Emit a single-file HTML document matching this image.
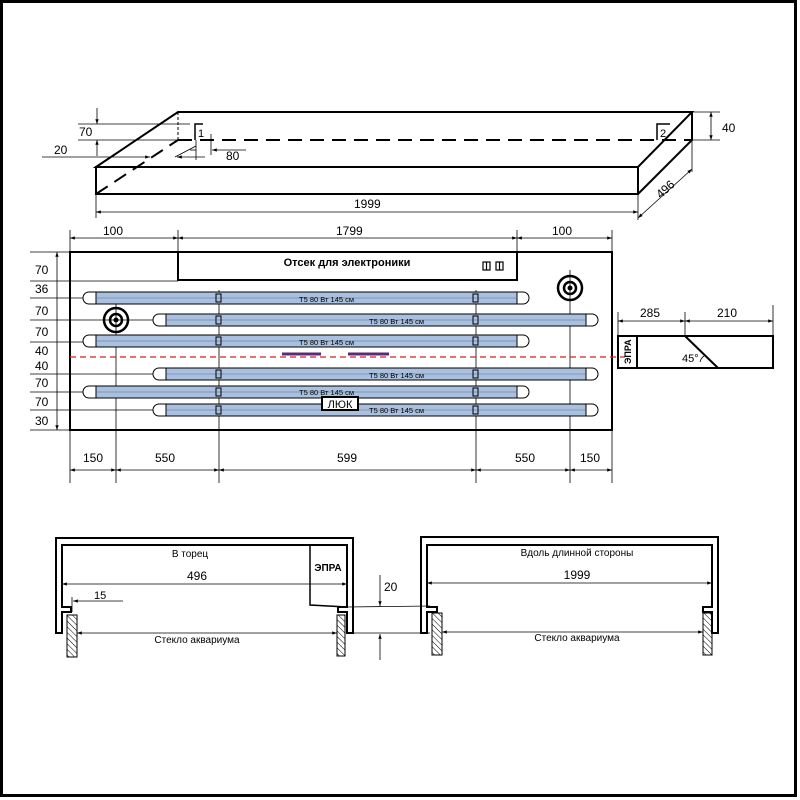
<!DOCTYPE html>
<html><head><meta charset="utf-8"><style>
body{margin:0;background:#fff}
svg{display:block}
text{font-family:"Liberation Sans",sans-serif;fill:#000}
</style></head><body>
<svg width="800" height="800" viewBox="0 0 800 800" xmlns="http://www.w3.org/2000/svg">
<defs>
<marker id="a" viewBox="0 0 10 10" refX="10" refY="5" markerWidth="8" markerHeight="6" orient="auto-start-reverse"><path d="M0,1.5L10,5L0,8.5z" fill="#000"/></marker>
<pattern id="h" width="4" height="4" patternUnits="userSpaceOnUse" patternTransform="rotate(-45)"><line x1="0" y1="0" x2="0" y2="4" stroke="#000" stroke-width="1"/></pattern>
</defs>
<rect x="1.5" y="1.5" width="794" height="794" fill="none" stroke="#000" stroke-width="3"/>

<!-- 3D box -->
<g fill="none" stroke="#000" stroke-width="2">
<path d="M96,167 L178,112 H692 L638,167 Z"/>
<rect x="96" y="167" width="542" height="27"/>
<path d="M638,194 L692,140 V112"/>
</g>
<g fill="none" stroke="#000" stroke-width="2" stroke-dasharray="14,8">
<path d="M96,194 L178,140"/>
<path d="M178,140 H692"/>
<path d="M178,112 V140" stroke-width="1" stroke-dasharray="3,2"/>
</g>
<g fill="none" stroke="#000" stroke-width="1.5">
<path d="M195,140 V124 H203"/><path d="M657,140 V124 H670"/>
</g>
<text x="198" y="137" font-size="11">1</text><text x="660" y="137" font-size="11">2</text>
<g stroke="#000" stroke-width="0.8" fill="none">
<line x1="78" y1="124" x2="190" y2="124"/><line x1="78" y1="140" x2="178" y2="140"/>
<line x1="97" y1="108" x2="97" y2="124" marker-end="url(#a)"/><line x1="97" y1="156" x2="97" y2="140" marker-end="url(#a)"/>
<line x1="42" y1="157" x2="150" y2="157" marker-end="url(#a)"/>
<line x1="205" y1="157" x2="177" y2="157" marker-end="url(#a)"/>
<line x1="175" y1="157" x2="196" y2="146"/>
<line x1="196" y1="140" x2="196" y2="160"/><line x1="211" y1="134" x2="211" y2="155"/>
<line x1="246" y1="150" x2="212" y2="150" marker-end="url(#a)"/>
<line x1="190" y1="150" x2="196" y2="150"/>
<line x1="96" y1="194" x2="96" y2="218"/><line x1="638" y1="194" x2="638" y2="220"/>
<line x1="96" y1="212" x2="638" y2="212" marker-start="url(#a)" marker-end="url(#a)"/>
<line x1="692" y1="140" x2="692" y2="172"/>
<line x1="638" y1="218" x2="692" y2="169" marker-start="url(#a)" marker-end="url(#a)"/>
<line x1="692" y1="112" x2="720" y2="112"/><line x1="692" y1="140" x2="720" y2="140"/>
<line x1="711" y1="126" x2="711" y2="112" marker-end="url(#a)"/><line x1="711" y1="126" x2="711" y2="140" marker-end="url(#a)"/>
</g>
<text x="79" y="136" font-size="12">70</text>
<text x="54" y="154" font-size="12">20</text>
<text x="226" y="160" font-size="12">80</text>
<text x="354" y="208" font-size="12">1999</text>
<text x="722" y="132" font-size="12">40</text>
<text x="656" y="193" font-size="12" transform="rotate(-42 666 190)">496</text>

<!-- plan view dims -->
<g stroke="#000" stroke-width="0.8" fill="none">
<line x1="70" y1="230" x2="70" y2="252"/><line x1="178" y1="230" x2="178" y2="252"/><line x1="517" y1="230" x2="517" y2="252"/><line x1="612" y1="230" x2="612" y2="252"/>
<line x1="70" y1="238" x2="178" y2="238" marker-start="url(#a)" marker-end="url(#a)"/>
<line x1="178" y1="238" x2="517" y2="238" marker-start="url(#a)" marker-end="url(#a)"/>
<line x1="517" y1="238" x2="612" y2="238" marker-start="url(#a)" marker-end="url(#a)"/>
<line x1="57" y1="252" x2="57" y2="430" marker-start="url(#a)" marker-end="url(#a)"/>
<line x1="30" y1="252" x2="70" y2="252"/><line x1="30" y1="430" x2="70" y2="430"/>
<line x1="30" y1="281" x2="178" y2="281"/>
<line x1="30" y1="298" x2="90" y2="298"/>
<line x1="30" y1="320" x2="160" y2="320"/>
<line x1="30" y1="342" x2="90" y2="342"/>
<line x1="30" y1="374" x2="160" y2="374"/>
<line x1="30" y1="392" x2="90" y2="392"/>
<line x1="30" y1="410" x2="160" y2="410"/>
<line x1="116" y1="300" x2="116" y2="483"/><line x1="219" y1="290" x2="219" y2="483"/><line x1="476" y1="290" x2="476" y2="483"/><line x1="570" y1="270" x2="570" y2="483"/>
<line x1="70" y1="430" x2="70" y2="483"/><line x1="612" y1="430" x2="612" y2="483"/>
<line x1="70" y1="470" x2="116" y2="470" marker-start="url(#a)" marker-end="url(#a)"/>
<line x1="116" y1="470" x2="219" y2="470" marker-start="url(#a)" marker-end="url(#a)"/>
<line x1="219" y1="470" x2="476" y2="470" marker-start="url(#a)" marker-end="url(#a)"/>
<line x1="476" y1="470" x2="570" y2="470" marker-start="url(#a)" marker-end="url(#a)"/>
<line x1="570" y1="470" x2="612" y2="470" marker-start="url(#a)" marker-end="url(#a)"/>
</g>
<g font-size="12">
<text x="103" y="235">100</text><text x="336" y="235">1799</text><text x="552" y="235">100</text>
<text x="35" y="274">70</text><text x="35" y="293">36</text><text x="35" y="315">70</text><text x="35" y="336">70</text><text x="35" y="355">40</text><text x="35" y="370">40</text><text x="35" y="387">70</text><text x="35" y="406">70</text><text x="35" y="425">30</text>
<text x="83" y="462">150</text><text x="155" y="462">550</text><text x="337" y="462">599</text><text x="515" y="462">550</text><text x="580" y="462">150</text>
</g>
<rect x="70" y="252" width="542" height="178" fill="none" stroke="#000" stroke-width="2"/>
<rect x="178" y="252" width="339" height="28" fill="#fff" stroke="#000" stroke-width="2"/>
<text x="347" y="266" font-size="11" font-weight="bold" text-anchor="middle">Отсек для электроники</text>
<g fill="none" stroke="#000" stroke-width="1.2"><rect x="483" y="262" width="7" height="8"/><rect x="496" y="262" width="7" height="8"/><line x1="486.5" y1="262" x2="486.5" y2="270"/><line x1="499.5" y1="262" x2="499.5" y2="270"/></g>

<!-- tubes -->
<g stroke="#000" stroke-width="1">
<g id="tL"><path d="M96,292 H89 A6,6 0 0 0 89,304 H96" fill="#fff"/><path d="M517,292 H523 A6,6 0 0 1 523,304 H517" fill="#fff"/><rect x="96" y="292" width="421" height="12" fill="#a9c0de"/><line x1="96" y1="298" x2="517" y2="298" stroke="#5a6d8a" stroke-width="0.6"/></g>
<use href="#tL" y="43"/><use href="#tL" y="94"/>
<g id="tR"><path d="M166,314 H159 A6,6 0 0 0 159,326 H166" fill="#fff"/><path d="M586,314 H592 A6,6 0 0 1 592,326 H586" fill="#fff"/><rect x="166" y="314" width="420" height="12" fill="#a9c0de"/><line x1="166" y1="320" x2="586" y2="320" stroke="#5a6d8a" stroke-width="0.6"/></g>
<use href="#tR" y="54"/><use href="#tR" y="90"/>
</g>
<g fill="none" stroke="#000" stroke-width="1">
<rect x="216" y="294" width="5" height="8"/><rect x="473" y="294" width="5" height="8"/>
<rect x="216" y="316" width="5" height="8"/><rect x="473" y="316" width="5" height="8"/>
<rect x="216" y="337" width="5" height="8"/><rect x="473" y="337" width="5" height="8"/>
<rect x="216" y="370" width="5" height="8"/><rect x="473" y="370" width="5" height="8"/>
<rect x="216" y="388" width="5" height="8"/><rect x="473" y="388" width="5" height="8"/>
<rect x="216" y="406" width="5" height="8"/><rect x="473" y="406" width="5" height="8"/>
</g>
<g font-size="7.5" fill="#223">
<text x="299" y="302">T5 80 Вт 145 см</text><text x="369" y="324">T5 80 Вт 145 см</text><text x="299" y="345">T5 80 Вт 145 см</text>
<text x="369" y="378">T5 80 Вт 145 см</text><text x="299" y="395">T5 80 Вт 145 см</text><text x="369" y="413">T5 80 Вт 145 см</text>
</g>
<g fill="none" stroke="#000" stroke-width="2.5">
<circle cx="116" cy="320" r="12"/><circle cx="116" cy="320" r="6"/>
<circle cx="570" cy="288" r="12"/><circle cx="570" cy="288" r="6"/>
</g>
<circle cx="116" cy="320" r="2.5"/><circle cx="570" cy="288" r="2.5"/>
<line x1="282" y1="354" x2="321" y2="354" stroke="#5a2a7a" stroke-width="3"/>
<line x1="348" y1="354" x2="389" y2="354" stroke="#5a2a7a" stroke-width="3"/>
<line x1="70" y1="357" x2="625" y2="357" stroke="#d02020" stroke-width="1.2" stroke-dasharray="6,4"/>
<rect x="322" y="397" width="36" height="13" fill="#fff" stroke="#000" stroke-width="2"/>
<text x="340" y="408" font-size="11" text-anchor="middle">ЛЮК</text>

<!-- side piece -->
<g stroke="#000" stroke-width="0.8" fill="none">
<line x1="618" y1="312" x2="618" y2="336"/><line x1="685" y1="312" x2="685" y2="336"/><line x1="773" y1="305" x2="773" y2="336"/>
<line x1="618" y1="321" x2="685" y2="321" marker-start="url(#a)" marker-end="url(#a)"/>
<line x1="685" y1="321" x2="773" y2="321" marker-start="url(#a)" marker-end="url(#a)"/>
<path d="M700,362 A10,10 0 0 1 704,356"/>
</g>
<g stroke="#000" stroke-width="2" fill="none"><rect x="618" y="336" width="155" height="32"/><line x1="637" y1="336" x2="637" y2="368"/><line x1="685" y1="336" x2="718" y2="368"/></g>
<text x="640" y="317" font-size="12">285</text><text x="717" y="317" font-size="12">210</text>
<text x="682" y="362" font-size="11">45°</text>
<text x="631" y="364" font-size="9" font-weight="bold" transform="rotate(-90 631 364)">ЭПРА</text>

<!-- bottom left profile -->
<path d="M56,633 V538 H353 V633 H347 V612 H338 V607 H347 V545 H62 V607 H71 V612 H62 V633 Z" fill="none" stroke="#000" stroke-width="2"/>
<path d="M310,545 V605 L347,607" fill="none" stroke="#000" stroke-width="1.5"/>
<text x="328" y="571" font-size="10" font-weight="bold" text-anchor="middle">ЭПРА</text>
<rect x="67" y="615" width="10" height="42" fill="url(#h)" stroke="#000" stroke-width="1"/>
<rect x="337" y="615" width="8" height="41" fill="url(#h)" stroke="#000" stroke-width="1"/>
<g stroke="#000" stroke-width="0.8" fill="none">
<line x1="62" y1="584" x2="347" y2="584" marker-start="url(#a)" marker-end="url(#a)"/>
<line x1="72" y1="597" x2="72" y2="612"/>
<line x1="123" y1="601" x2="73" y2="601" marker-end="url(#a)"/>
<line x1="77" y1="633" x2="337" y2="633" marker-start="url(#a)" marker-end="url(#a)"/>
<line x1="347" y1="607" x2="430" y2="606"/><line x1="353" y1="633" x2="430" y2="633"/>
<line x1="380" y1="575" x2="380" y2="606" marker-end="url(#a)"/>
<line x1="380" y1="660" x2="380" y2="634" marker-end="url(#a)"/>
</g>
<text x="190" y="557" font-size="10" text-anchor="middle">В торец</text>
<text x="197" y="580" font-size="12" text-anchor="middle">496</text>
<text x="94" y="599" font-size="11">15</text>
<text x="197" y="643" font-size="10" text-anchor="middle">Стекло аквариума</text>
<text x="384" y="591" font-size="12">20</text>

<!-- bottom right profile -->
<path d="M421,633 V537 H718 V633 H712 V612 H703 V607 H712 V545 H427 V607 H437 V612 H427 V633 Z" fill="none" stroke="#000" stroke-width="2"/>
<rect x="432" y="613" width="10" height="42" fill="url(#h)" stroke="#000" stroke-width="1"/>
<rect x="703" y="613" width="9" height="42" fill="url(#h)" stroke="#000" stroke-width="1"/>
<g stroke="#000" stroke-width="0.8" fill="none">
<line x1="427" y1="583" x2="712" y2="583" marker-start="url(#a)" marker-end="url(#a)"/>
<line x1="442" y1="632" x2="703" y2="632" marker-start="url(#a)" marker-end="url(#a)"/>
</g>
<text x="577" y="556" font-size="10" text-anchor="middle">Вдоль длинной стороны</text>
<text x="577" y="579" font-size="12" text-anchor="middle">1999</text>
<text x="577" y="641" font-size="10" text-anchor="middle">Стекло аквариума</text>
</svg>
</body></html>
